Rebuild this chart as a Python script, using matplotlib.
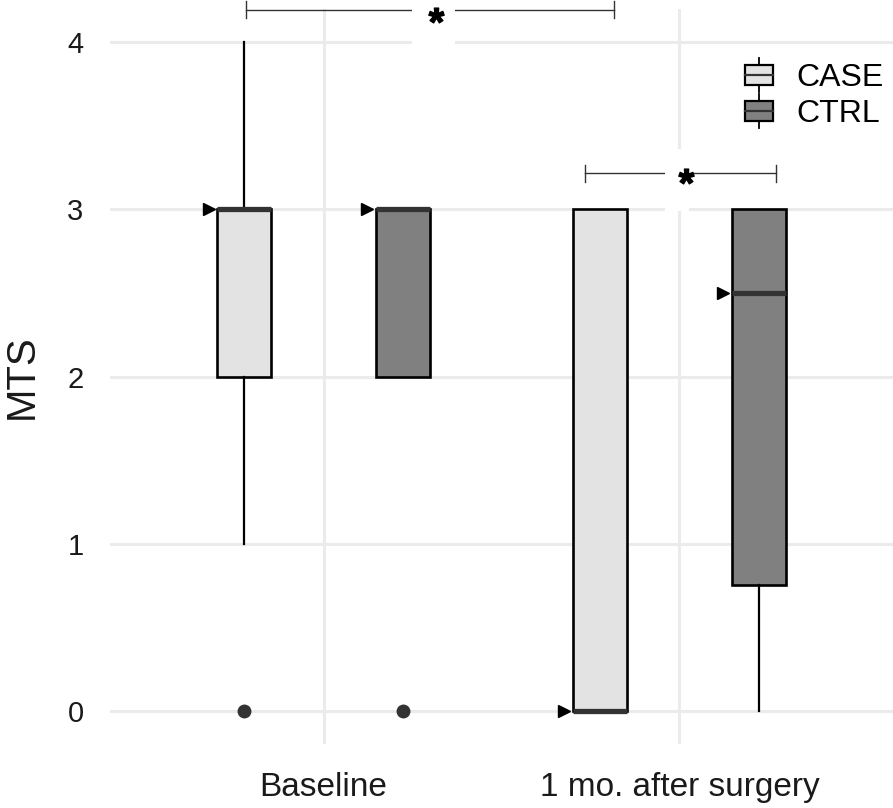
import numpy as np
import matplotlib
matplotlib.use("Agg")
from matplotlib import pyplot as plt
from matplotlib.patches import Rectangle
from matplotlib.lines import Line2D
from matplotlib.path import Path
from matplotlib.textpath import TextPath
from matplotlib.font_manager import FontProperties
from matplotlib.legend_handler import HandlerBase

# данные: MTS по группам
timepoints = ["Baseline", "1 mo. after surgery"]
groups = ["CASE", "CTRL"]
group_colors = {"CASE": "#e3e3e3", "CTRL": "#808080"}

# [Baseline, 1 mo.] для каждой группы
whis_lo = {"CASE": [1, 0], "CTRL": [2, 0]}
q1 = {"CASE": [2, 0], "CTRL": [2, 0.75]}
median = {"CASE": [3, 0], "CTRL": [3, 2.5]}
q3 = {"CASE": [3, 3], "CTRL": [3, 3]}
whis_hi = {"CASE": [4, 3], "CTRL": [3, 3]}
outliers = {"CASE": [[0], []], "CTRL": [[0], []]}

# значимые различия
signif_labels = ["*", "*"]

plt.rcParams["font.family"] = ["Liberation Sans", "DejaVu Sans"]

dodge = 0.223
box_w = 0.15


def box_pos(group, t):
    return t + (-dodge if group == "CASE" else dodge)


class BoxKeyHandler(HandlerBase):
    """значок легенды в виде маленького боксплота"""

    def create_artists(self, legend, orig_handle, xdescent, ydescent,
                       width, height, fontsize, trans):
        x0, y0 = -xdescent, -ydescent
        cx, cy = x0 + width / 2, y0 + height / 2
        whisk = Line2D([cx, cx], [cy - 0.86 * height, cy + 0.86 * height],
                       color="black", lw=1.3)
        rect = Rectangle((x0, y0), width, height,
                         facecolor=orig_handle.get_facecolor(),
                         edgecolor="black", lw=1.6)
        med = Line2D([x0, x0 + width], [cy, cy], color="#333333", lw=1.6)
        for a in (whisk, rect, med):
            a.set_transform(trans)
        return [whisk, rect, med]


def star_marker(s):
    tp = TextPath((0, 0), s, prop=FontProperties(family="Liberation Sans", weight="bold"))
    v = tp.vertices.copy()
    real = tp.codes != Path.CLOSEPOLY
    v -= (v[real].min(axis=0) + v[real].max(axis=0)) / 2
    v[~real] = 0
    return Path(v, tp.codes)


def main():
    fig = plt.figure(figsize=(8.93, 8.08), dpi=100)
    ax = fig.add_axes([110 / 893, 1 - 744 / 808, 783 / 893, 735 / 808])

    for g in groups:
        stats, pos = [], []
        for t in range(len(timepoints)):
            stats.append(dict(whislo=whis_lo[g][t], q1=q1[g][t], med=median[g][t],
                              q3=q3[g][t], whishi=whis_hi[g][t], fliers=outliers[g][t]))
            pos.append(box_pos(g, t))
        ax.bxp(stats, positions=pos, widths=box_w, patch_artist=True,
               showcaps=False, manage_ticks=False,
               boxprops=dict(facecolor=group_colors[g], edgecolor="black", lw=1.9),
               medianprops=dict(color="#333333", lw=3.8, solid_capstyle="butt"),
               whiskerprops=dict(color="black", lw=1.6),
               flierprops=dict(marker="o", markerfacecolor="#333333",
                               markeredgecolor="#333333", markersize=9))
        # треугольник у медианы
        ax.plot(np.array(pos) - 0.1, median[g], ">", color="black", ms=8,
                zorder=4, clip_on=False)

    # скобки значимости
    brackets = [(-0.218, 0.816, 4.197), (0.735, 1.271, 3.216)]
    label_xy = [(0.316, 4.165), (1.018, 3.20)]
    masks = [(0.249, 3.98, 0.12, 0.4), (0.959, 2.99, 0.068, 0.37)]
    tip = 0.05
    for (x1, x2, y), (lx, ly), m, lab in zip(brackets, label_xy, masks, signif_labels):
        ax.plot([x1, x2], [y, y], color="#333333", lw=1.0, clip_on=False, zorder=3)
        ax.plot([x1, x1], [y - tip, y + tip], color="#333333", lw=1.0, clip_on=False, zorder=3)
        ax.plot([x2, x2], [y - tip, y + tip], color="#333333", lw=1.0, clip_on=False, zorder=3)
        ax.add_patch(Rectangle((m[0], m[1]), m[2], m[3], facecolor="white",
                               edgecolor="none", clip_on=False, zorder=3.5))
        ax.plot([lx], [ly], marker=star_marker(lab), color="black", ms=11, ls="none",
                clip_on=False, zorder=5)

    ax.set_xlim(-0.6, 1.6)
    ax.set_ylim(-0.2, 4.2)
    ax.set_xticks(range(len(timepoints)))
    ax.set_xticklabels(timepoints)
    ax.set_yticks([0, 1, 2, 3, 4])
    ax.grid(True, color="#ebebeb", lw=2.2)
    ax.set_axisbelow(True)
    for s in ax.spines.values():
        s.set_visible(False)
    ax.tick_params(axis="y", length=0, pad=19, labelsize=21, labelcolor="#1a1a1a")
    ax.tick_params(axis="x", length=0, pad=20, labelsize=24, labelcolor="#1a1a1a")
    ax.set_ylabel("MTS", fontsize=29, color="#1a1a1a")
    ax.yaxis.set_label_coords(-0.088, 0.5)

    handles = [Rectangle((0, 0), 1, 1, facecolor=group_colors[g]) for g in groups]
    ax.legend(handles, groups, loc="upper left", frameon=False,
              bbox_to_anchor=(745 / 893, 1 - 63 / 808), bbox_transform=fig.transFigure,
              borderpad=0, borderaxespad=0, fontsize=23, handlelength=0.88,
              handleheight=0.57, handletextpad=0.72, labelspacing=0.2,
              handler_map={Rectangle: BoxKeyHandler()})

    fig.savefig("out.png", dpi=100)


if __name__ == "__main__":
    main()
